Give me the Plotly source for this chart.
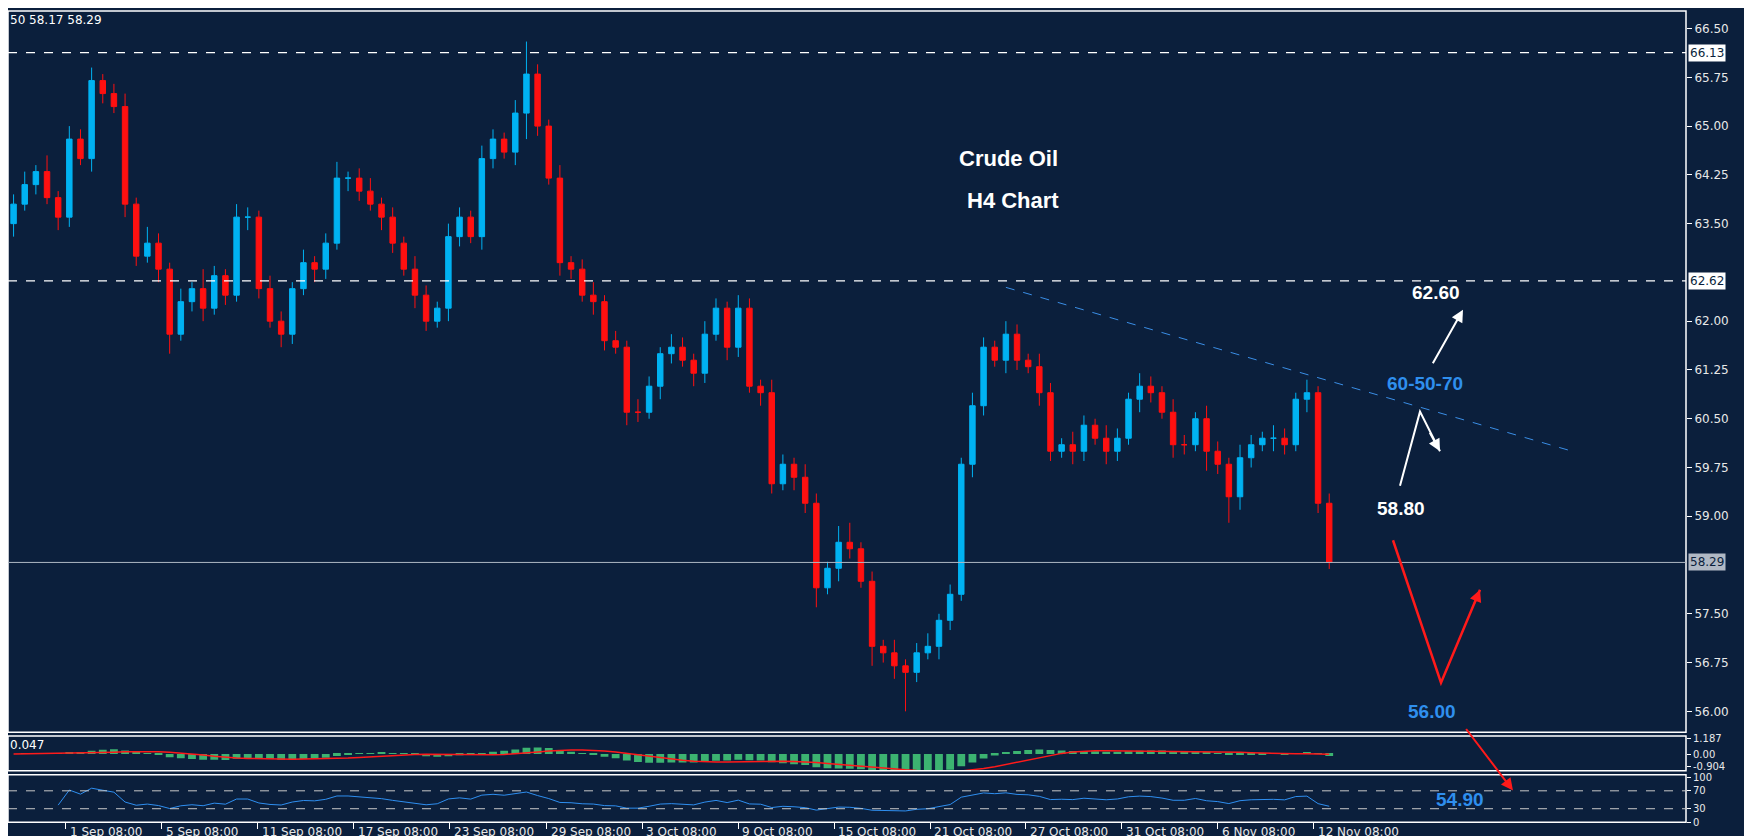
import plotly.graph_objects as go
import pandas as pd
import numpy as np

closes = [63.8,64.1,64.3,63.9,63.6,64.8,64.5,65.7,65.5,65.3,
          63.8,63.0,63.2,62.8,61.8,62.3,62.5,62.2,62.7,62.4,
          63.6,63.6,62.5,62.0,61.8,62.5,62.9,62.8,63.2,64.2,
          64.2,64.0,63.8,63.6,63.2,62.8,62.4,62.0,62.2,63.3,
          63.6,63.3,64.5,64.8,64.6,65.2,65.8,65.0,64.2,62.9,
          62.8,62.4,62.3,61.7,61.6,60.6,60.6,61.0,61.5,61.6,
          61.4,61.2,61.8,62.2,61.6,62.2,61.0,60.9,59.5,59.8,
          59.6,59.2,57.9,58.2,58.6,58.5,58.0,57.0,56.9,56.7,
          56.6,56.9,57.0,57.4,57.8,59.8,60.7,61.6,61.4,61.8,
          61.4,61.3,60.9,60.0,60.1,60.0,60.4,60.2,60.0,60.2,
          60.8,61.0,60.9,60.6,60.1,60.1,60.5,60.0,59.8,59.3,
          59.9,60.1,60.2,60.2,60.1,60.8,60.9,59.2,58.29]
first_open = 63.5
up_wicks = [0.15,0.2,0.1,0.25,0.1,0.2,0.15,0.2,0.1,0.15,
            0.2,0.1,0.25,0.15,0.1,0.2,0.1,0.3,0.15,0.1,
            0.2,0.15,0.1,0.2,0.15,0.1,0.2,0.1,0.15,0.25,
            0.1,0.15,0.2,0.1,0.15,0.1,0.2,0.15,0.1,0.2,
            0.15,0.1,0.2,0.15,0.1,0.2,0.5,0.15,0.1,0.2,
            0.1,0.15,0.2,0.1,0.15,0.1,0.2,0.15,0.1,0.2,
            0.15,0.1,0.2,0.15,0.1,0.2,0.15,0.1,0.2,0.15,
            0.1,0.2,0.15,0.1,0.25,0.3,0.1,0.15,0.1,0.2,
            0.1,0.15,0.2,0.1,0.15,0.1,0.2,0.15,0.1,0.2,
            0.15,0.1,0.2,0.15,0.1,0.2,0.15,0.1,0.2,0.15,
            0.1,0.2,0.15,0.1,0.2,0.15,0.1,0.2,0.15,0.1,
            0.2,0.15,0.1,0.2,0.15,0.1,0.2,0.1,0.15]
down_wicks = [0.2,0.1,0.15,0.1,0.2,0.15,0.1,0.2,0.15,0.1,
              0.2,0.15,0.1,0.2,0.3,0.1,0.15,0.2,0.1,0.15,
              0.1,0.2,0.15,0.1,0.2,0.15,0.1,0.2,0.15,0.1,
              0.2,0.15,0.1,0.2,0.15,0.1,0.2,0.15,0.1,0.2,
              0.15,0.1,0.2,0.15,0.1,0.2,0.4,0.15,0.1,0.2,
              0.15,0.1,0.2,0.15,0.1,0.2,0.15,0.1,0.2,0.15,
              0.1,0.2,0.15,0.1,0.2,0.15,0.1,0.2,0.15,0.1,
              0.2,0.15,0.3,0.1,0.2,0.15,0.1,0.3,0.15,0.2,
              0.6,0.15,0.1,0.2,0.15,0.1,0.2,0.15,0.1,0.2,
              0.15,0.1,0.2,0.15,0.1,0.2,0.15,0.1,0.2,0.15,
              0.1,0.2,0.15,0.1,0.2,0.15,0.1,0.3,0.15,0.4,
              0.2,0.15,0.1,0.2,0.15,0.1,0.2,0.15,0.1]

tick_idx = [-3.9,4.7,13.3,21.9,30.5,39.1,47.8,56.4,65.0,73.6,82.2,90.8,99.4,108.0,116.6]
tick_labels = ["28 Aug 08:00","1 Sep 08:00","5 Sep 08:00","11 Sep 08:00","17 Sep 08:00",
               "23 Sep 08:00","29 Sep 08:00","3 Oct 08:00","9 Oct 08:00","15 Oct 08:00",
               "21 Oct 08:00","27 Oct 08:00","31 Oct 08:00","6 Nov 08:00","12 Nov 08:00"]
price_ticks = [56.00,56.75,57.50,59.00,59.75,60.50,61.25,62.00,63.50,64.25,65.00,65.75,66.50]
levels = [66.13, 62.62]
last_price = 58.29
trend_x = [89, 139.8]
trend_y = [62.52, 60.0]

W, H = 1752, 836
def px(x): return x / W
def py(y): return 1 - y / H

n = len(closes)
idx = list(range(n))
opens = [first_open] + closes[:-1]
highs = [max(o, c) + u for o, c, u in zip(opens, closes, up_wicks)]
lows = [min(o, c) - d for o, c, d in zip(opens, closes, down_wicks)]

s = pd.Series(closes)
macd = s.ewm(span=12, adjust=False).mean() - s.ewm(span=26, adjust=False).mean()
signal = macd.rolling(9, min_periods=1).mean()
delta = s.diff().fillna(0)
gain = delta.clip(lower=0).ewm(alpha=1/14, adjust=False).mean()
loss = (-delta.clip(upper=0)).ewm(alpha=1/14, adjust=False).mean()
rsi = 100 - 100 / (1 + gain / loss.replace(0, 1e-9))

BG = "#0b1f3c"
fig = go.Figure()
fig.add_trace(go.Candlestick(x=idx, open=opens, high=highs, low=lows, close=closes,
    increasing=dict(line=dict(color="#00b2f2", width=1), fillcolor="#00b2f2"),
    decreasing=dict(line=dict(color="#ff1010", width=1), fillcolor="#ff1010"),
    whiskerwidth=0, xaxis="x", yaxis="y", showlegend=False))
fig.add_trace(go.Scatter(x=trend_x, y=trend_y, mode="lines",
    line=dict(color="#3a8ee6", width=1, dash="dash"), xaxis="x", yaxis="y", showlegend=False))
fig.add_trace(go.Bar(x=idx, y=macd, marker_color="#3cb371", marker_line_width=0,
    xaxis="x2", yaxis="y2", showlegend=False))
fig.add_trace(go.Scatter(x=idx, y=signal, mode="lines", line=dict(color="#ff1a1a", width=1.5),
    xaxis="x2", yaxis="y2", showlegend=False))
fig.add_trace(go.Scatter(x=idx[4:], y=rsi[4:], mode="lines", line=dict(color="#2f8ff0", width=1),
    xaxis="x3", yaxis="y3", showlegend=False))

xr = [-0.5, 150]
xd = [0, 1678 / W]
ax_common = dict(range=xr, domain=xd, showgrid=False, zeroline=False, showticklabels=False,
                 rangeslider=dict(visible=False), fixedrange=True)
tickfont = dict(color="#e8e8e8", size=12, family="DejaVu Sans")
smallfont = dict(color="#e8e8e8", size=10, family="DejaVu Sans")
fig.update_layout(
    width=W, height=H, margin=dict(l=0, r=0, t=0, b=0),
    paper_bgcolor=BG, plot_bgcolor=BG, bargap=0.3,
    xaxis=dict(**ax_common, anchor="y"),
    xaxis2=dict(**ax_common, anchor="y2", matches="x"),
    xaxis3=dict(**ax_common, anchor="y3", matches="x", tickvals=tick_idx[1:], ticks="outside",
                ticklen=6, tickcolor="white"),
    yaxis=dict(domain=[py(729), 1], range=[55.68, 66.77], side="right", anchor="x",
               tickvals=price_ticks, ticktext=[f"{v:.2f}" for v in price_ticks],
               ticks="outside", ticklen=5, tickcolor="white", tickfont=tickfont, showgrid=False, zeroline=False),
    yaxis2=dict(domain=[py(768), py(733)], range=[-1.25, 1.35], side="right", anchor="x2",
                tickvals=[1.187, 0.0, -0.904], ticktext=["1.187", "0.00", "-0.904"],
                ticks="outside", ticklen=4, tickcolor="white", tickfont=smallfont,
                showgrid=False, zeroline=False),
    yaxis3=dict(domain=[py(820), py(772)], range=[0, 106], side="right", anchor="x3",
                tickvals=[100, 70, 30, 0], ticktext=["100", "70", "30", "0"],
                ticks="outside", ticklen=4, tickcolor="white", tickfont=smallfont,
                showgrid=False, zeroline=False),
)

shapes = []
for (y0, y1) in [(729, 0), (768, 733), (820, 772)]:
    shapes.append(dict(type="rect", xref="paper", yref="paper", x0=0, x1=xd[1], y0=py(y0), y1=py(y1),
                       line=dict(color="white", width=1.5)))
for lv in levels:
    shapes.append(dict(type="line", xref="x", yref="y", x0=xr[0], x1=xr[1], y0=lv, y1=lv,
                       line=dict(color="white", width=1.3, dash="dash")))
shapes.append(dict(type="line", xref="x", yref="y", x0=xr[0], x1=xr[1], y0=last_price, y1=last_price,
                   line=dict(color="#b0b8c4", width=1)))
for lv in [70, 30]:
    shapes.append(dict(type="line", xref="x3", yref="y3", x0=xr[0], x1=xr[1], y0=lv, y1=lv,
                       line=dict(color="#c8c8c8", width=1, dash="dash")))
def path(pts):
    return "M " + " L ".join(f"{px(x)},{py(y)}" for x, y in pts)
shapes.append(dict(type="path", xref="paper", yref="paper",
                   path=path([(1392, 480), (1412, 405), (1432, 445)]), line=dict(color="white", width=2)))
shapes.append(dict(type="path", xref="paper", yref="paper",
                   path=path([(1385, 535), (1433, 679), (1472, 585)]), line=dict(color="#ff1a1a", width=2.5)))
fig.update_layout(shapes=shapes)

ann = []
def arrowhead(x0, y0, x1, y1, color):
    ann.append(dict(xref="paper", yref="paper", x=px(x1), y=py(y1), ax=x0 - x1, ay=y0 - y1,
                    axref="pixel", ayref="pixel", showarrow=True, arrowhead=2, arrowwidth=2,
                    arrowsize=1.2, arrowcolor=color, text=""))
arrowhead(1421, 425, 1432, 445, "white")
arrowhead(1424, 357, 1455, 302, "white")
arrowhead(1466, 600, 1472, 585, "#ff1a1a")
arrowhead(1457, 725, 1505, 788, "#ff1a1a")

def txt(x, y, t, color="white", size=22, bold=True):
    ann.append(dict(xref="paper", yref="paper", x=px(x), y=py(y), text=f"<b>{t}</b>" if bold else t,
                    showarrow=False, font=dict(color=color, size=size, family="Liberation Sans"),
                    xanchor="center", yanchor="middle"))
txt(1000, 149, "Crude Oil")
txt(1005, 192, "H4 Chart")
txt(1428, 285, "62.60", size=19)
txt(1417, 377, "60-50-70", color="#2f8fee", size=19)
txt(1393, 503, "58.80", size=19)
txt(1424, 708, "56.00", color="#2f8fee", size=19)
txt(1452, 797, "54.90", color="#2f8fee", size=19)
ann.append(dict(xref="paper", yref="paper", x=0, y=py(9), text="50 58.17 58.29", showarrow=False,
                xanchor="left", yanchor="middle", font=dict(color="white", size=12, family="DejaVu Sans")))
ann.append(dict(xref="paper", yref="paper", x=0, y=py(742), text="0.047", showarrow=False,
                xanchor="left", yanchor="middle", font=dict(color="white", size=12, family="DejaVu Sans")))
for v, bg, fg in [(66.13, "white", "#0b1f3c"), (62.62, "white", "#0b1f3c"), (58.29, "#b0b8c4", "#0b1f3c")]:
    ann.append(dict(xref="paper", yref="y", x=px(1680), y=v, text=f"{v:.2f}", showarrow=False,
                    xanchor="left", yanchor="middle", bgcolor=bg, borderpad=1,
                    font=dict(color=fg, size=12, family="DejaVu Sans")))
for ti, tl in zip(tick_idx, tick_labels):
    ann.append(dict(xref="x3", yref="paper", x=ti, y=py(830), text=tl, showarrow=False,
                    xanchor="left", yanchor="middle", xshift=2,
                    font=dict(color="#e8e8e8", size=12, family="DejaVu Sans")))
fig.update_layout(annotations=ann)

fig.write_html("out.html")
